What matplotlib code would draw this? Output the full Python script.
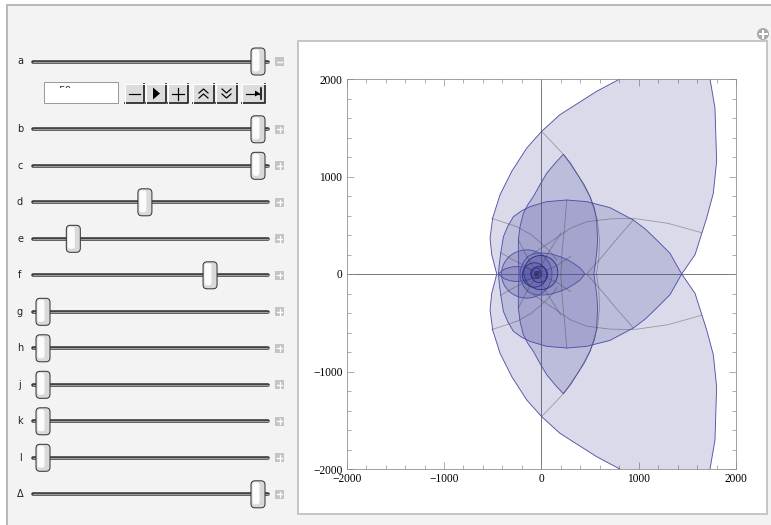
import numpy as np
import matplotlib.pyplot as plt
from matplotlib.patches import Polygon, Ellipse, Rectangle, FancyBboxPatch, Circle

# slider panel
slider_names = ['a', 'b', 'c', 'd', 'e', 'f', 'g', 'h', 'j', 'k', 'l', 'Δ']
slider_values = [1.0, 1.0, 1.0, 0.474, 0.141, 0.777, 0.0, 0.0, 0.0, 0.0, 0.0, 1.0]
field_text = '50'

# region outlines (upper half, left cusp -> right cusp; lower half is the mirror)
outer_x = [-458, -510, -527, -500, -424, -304, -150, 3, 191, 567, 806, 1100, 1500,
           1733, 1784, 1801, 1767, 1699, 1579, 1442]
outer_y = [0, 198, 369, 575, 814, 1053, 1292, 1463, 1634, 1873, 2000, 2200, 2200,
           2000, 1703, 1156, 828, 575, 198, 0]
egg_x = [-441, -432, -420, -390, -345, -287, -200, -116, 55, 261, 466, 705, 945,
         1070, 1185, 1322, 1442]
egg_y = [0, 100, 198, 383, 490, 588, 650, 691, 742, 759, 742, 681, 554,
         460, 349, 212, 0]
lens_x = [-230, -236, -236, -219, -185, -140, -82, -15, 55, 140, 226, 300, 363, 440,
          500, 545, 568, 578, 572, 560, 540]
lens_y = [0, 178, 349, 486, 623, 710, 794, 915, 1033, 1135, 1228, 1135, 1033, 915,
          794, 675, 554, 349, 250, 144, 0]
small_egg_x = [-219, -212, -180, -140, -90, -40, 20, 80, 140, 200, 270, 330, 400, 449]
small_egg_y = [0, 60, 130, 180, 205, 215, 215, 210, 195, 175, 145, 110, 60, 0]
small_lens_x = [-442, -410, -380, -330, -290, -230, -180, -130, -100, -65]
small_lens_y = [0, 28, 50, 66, 75, 76, 70, 56, 45, 0]

# round pieces: mid circle and the spiral of small circles near the centre
mid_circle = (-150, 0, 520, 495)
spiral_cx = [-5, -70, -20, -55, -35, -46, -40, -43, -41]
spiral_cy = [15, -10, -5, 8, -4, 2, -2, 1, 0]
spiral_r = [175, 125, 85, 55, 32, 20, 12, 7, 4]

# grey mesh curves (upper half, mirrored below)
mesh_lines = [
    ([3, 226, 380, 500, 575, 598, 590, 565], [1463, 1228, 1010, 790, 560, 350, 150, 0]),
    ([-510, -253, -100, 0, 100, 160], [571, 486, 400, 315, 220, 140]),
    ([-82, 123, 300, 466, 705, 945, 1300, 1646], [212, 349, 470, 536, 565, 571, 520, 424]),
    ([466, 600, 750, 945], [0, 150, 330, 554]),
    ([261, 240, 215, 200], [759, 500, 250, 0]),
    ([-41, -150, -236], [0, 180, 349]),
    ([-41, 60, 200], [0, 200, 420]),
    ([-41, 150, 300], [0, 80, 180]),
    ([-420, -300, -180, -60], [220, 150, 90, 20]),
]

FILL = (0.28, 0.28, 0.62)
EDGE = '#5252a8'
PX = 0.72  # points per pixel at dpi 100


def mirrored(xs, ys):
    xs = list(xs)
    ys = list(ys)
    lower = [(x, -y) for x, y in zip(xs[::-1], ys[::-1])][1:-1]
    return list(zip(xs, ys)) + lower


fig = plt.figure(figsize=(7.71, 5.25), dpi=100)
fig.patch.set_facecolor('white')

# ---- control panel (pixel coordinates) ----
ui = fig.add_axes([0, 0, 1, 1])
ui.set_xlim(0, 771)
ui.set_ylim(525, 0)
ui.axis('off')

ui.add_patch(Rectangle((7, 5), 800, 560, fc='#f3f3f3', ec='#b9b9b9', lw=2 * PX))
ui.add_patch(Rectangle((297.5, 41), 469.5, 473, fc='white', ec='#c6c6c6', lw=2 * PX))

# plus icon top right
ui.add_patch(Circle((763, 34), 6, fc='#a9a9a9', ec='none'))
ui.plot([759.5, 766.5], [34, 34], color='white', lw=2 * PX)
ui.plot([763, 763], [30.5, 37.5], color='white', lw=2 * PX)

row_y = [61.5] + [129.3 + 36.5 * k for k in range(11)]
for name, v, y in zip(slider_names, slider_values, row_y):
    ui.text(20, y, name, ha='center', va='center', fontsize=7, color='#222222',
            family='DejaVu Sans')
    ui.plot([33, 268], [y, y], color='#3a3a3a', lw=3.6 * PX, solid_capstyle='round')
    ui.plot([33, 268], [y, y], color='#9c9c9c', lw=1.2 * PX, solid_capstyle='round')
    cx = 43 + v * 215
    ui.add_patch(FancyBboxPatch((cx - 7, y - 13.5), 14, 27,
                                boxstyle='round,pad=0,rounding_size=4',
                                fc='#d9d9d9', ec='#333333', lw=1 * PX, zorder=3))
    ui.add_patch(FancyBboxPatch((cx - 5.5, y - 12), 7, 22,
                                boxstyle='round,pad=0,rounding_size=2.5',
                                fc='#fbfbfb', ec='none', zorder=3))
    ui.add_patch(Rectangle((275, y - 4.5), 9, 9, fc='#c4c4c4', ec='none'))
    ui.plot([276.8, 282.2], [y, y], color='white', lw=1.3 * PX)
    if name != 'a':
        ui.plot([279.5, 279.5], [y - 2.7, y + 2.7], color='white', lw=1.3 * PX)

# animation controls under slider a: the value field only shows the top of its text
ui.add_patch(Rectangle((44.3, 82.3), 74, 21, fc='white', ec='none', zorder=1))
ui.text(58, 85.6, field_text, ha='left', va='top', fontsize=7.5, color='#333333', zorder=2)
ui.add_patch(Rectangle((45, 88.3), 72.5, 14.5, fc='white', ec='none', zorder=3))
ui.add_patch(Rectangle((44.3, 82.3), 74, 21, fc='none', ec='#9a9a9a', lw=1 * PX, zorder=4))

buttons = [(125, 144), (146, 166), (168, 188), (193, 214), (216, 237), (242, 265)]
for x0, x1 in buttons:
    ui.add_patch(Rectangle((x0, 84), x1 - x0, 19, fc='#dcdcdc', ec='none'))
    ui.plot([x0, x1, x1], [103, 103, 84], color='#2c2c2c', lw=1.8 * PX)
    ui.plot([x0, x0, x1], [103, 84, 84], color='white', lw=1 * PX)

k = dict(color='black', lw=1.2 * PX)
ui.plot([129, 140], [93.5, 93.5], **k)
ui.add_patch(Polygon([(153, 87.5), (153, 99.5), (160, 93.5)], closed=True, fc='black', ec='none'))
ui.plot([172, 184], [93.5, 93.5], **k)
ui.plot([178, 178], [87.5, 99.5], **k)
for yy in (90, 95):
    ui.plot([199, 203.5, 208], [yy + 3, yy - 1, yy + 3], **k)
    ui.plot([222, 226.5, 231], [yy - 1, yy + 3, yy - 1], **k)
ui.plot([246, 259], [93.5, 93.5], **k)
ui.add_patch(Polygon([(255, 90.5), (255, 96.5), (260, 93.5)], closed=True, fc='black', ec='none'))
ui.plot([261, 261], [88, 99], color='black', lw=1.6 * PX)

# ---- region plot ----
ax = fig.add_axes([346.7 / 771, 56 / 525, 389.3 / 771, 390 / 525])
ax.set_facecolor('none')
ax.set_xlim(-2000, 2000)
ax.set_ylim(-2000, 2000)

ax.axhline(0, color='#7a7a7a', lw=1 * PX, zorder=0.5)
ax.axvline(0, color='#7a7a7a', lw=1 * PX, zorder=0.5)

shape_kw = dict(closed=True, fc=FILL + (0.2,), ec=EDGE, lw=0.9 * PX, zorder=2)
for xs, ys in [(outer_x, outer_y), (egg_x, egg_y), (lens_x, lens_y),
               (small_egg_x, small_egg_y), (small_lens_x, small_lens_y)]:
    ax.add_patch(Polygon(mirrored(xs, ys), **shape_kw))

mx, my, mw, mh = mid_circle
ax.add_patch(Ellipse((mx, my), mw, mh, fc=FILL + (0.2,), ec=EDGE, lw=0.9 * PX, zorder=2))
for cx, cy, r in zip(spiral_cx, spiral_cy, spiral_r):
    ax.add_patch(Circle((cx, cy), r, fc=FILL + (0.2,), ec='#2a2a80', lw=0.8 * PX, zorder=2))

for xs, ys in mesh_lines:
    ax.plot(xs, ys, color='#444444', alpha=0.45, lw=0.8 * PX, zorder=2.5)
    ax.plot(xs, [-y for y in ys], color='#444444', alpha=0.45, lw=0.8 * PX, zorder=2.5)

ax.set_xticks(np.arange(-2000, 2001, 1000))
ax.set_yticks(np.arange(-2000, 2001, 1000))
ax.set_xticks(np.arange(-2000, 2001, 200), minor=True)
ax.set_yticks(np.arange(-2000, 2001, 200), minor=True)
ax.tick_params(which='both', direction='in', top=True, right=True, color='#8c8c8c',
               width=0.7 * PX, labelsize=8.3, pad=3)
ax.tick_params(which='major', length=5 * PX * 1.39)
ax.tick_params(which='minor', length=3 * PX * 1.39)
for lab in ax.get_xticklabels() + ax.get_yticklabels():
    lab.set_family('Liberation Serif')
for sp in ax.spines.values():
    sp.set_color('#8c8c8c')
    sp.set_linewidth(0.8 * PX)

fig.savefig('out.png', dpi=100)
